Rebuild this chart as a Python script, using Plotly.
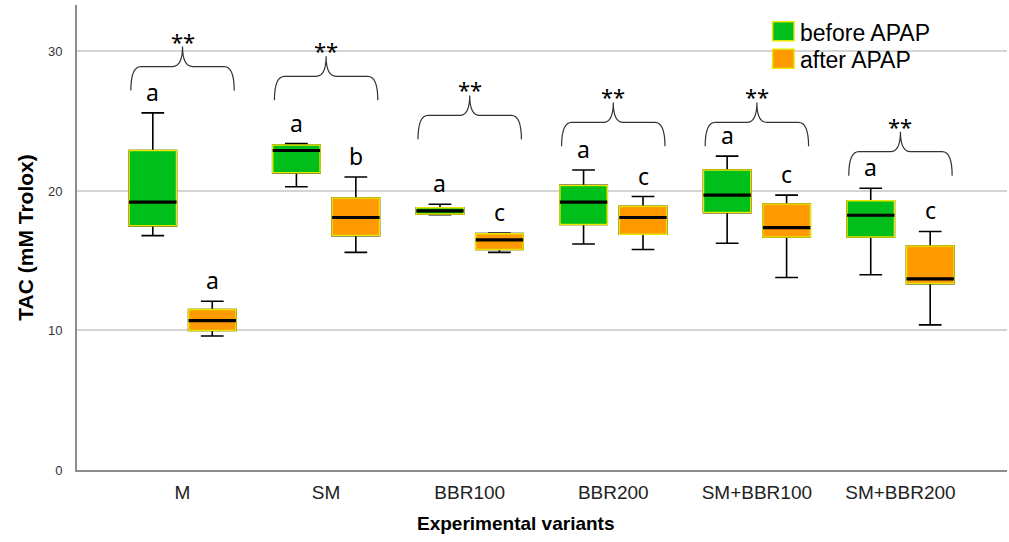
import plotly.graph_objects as go

# ---------------- data ----------------
categories = ["M", "SM", "BBR100", "BBR200", "SM+BBR100", "SM+BBR200"]
series_names = ["before APAP", "after APAP"]

before_low = [16.8, 20.3, 18.3, 16.2, 16.25, 14.0]
before_q1 = [17.5, 21.3, 18.35, 17.6, 18.45, 16.7]
before_med = [19.2, 22.9, 18.57, 19.2, 19.7, 18.26]
before_q3 = [22.9, 23.3, 18.8, 20.4, 21.5, 19.3]
before_high = [25.6, 23.4, 19.05, 21.5, 22.5, 20.2]

after_low = [9.6, 15.6, 15.6, 15.8, 13.8, 10.4]
after_q1 = [10.0, 16.8, 15.8, 16.9, 16.7, 13.36]
after_med = [10.7, 18.1, 16.5, 18.1, 17.37, 13.7]
after_q3 = [11.5, 19.5, 16.94, 18.9, 19.07, 16.06]
after_high = [12.1, 21.0, 16.99, 19.6, 19.7, 17.1]

before_letters = ["a", "a", "a", "a", "a", "a"]
after_letters = ["a", "b", "c", "c", "c", "c"]
significance = ["**", "**", "**", "**", "**", "**"]
brace_level = [27.2, 26.5, 23.7, 23.2, 23.2, 21.1]

y_ticks = [0, 10, 20, 30]

# ---------------- styles ----------------
GREEN = "#00BF1A"
ORANGE = "#FF9900"
YELLOW = "#E6E600"
OFFSET = 0.207
BOXW = 0.33

fig = go.Figure()
shapes = []
annotations = []

groups = [
    (series_names[0], GREEN, -OFFSET, before_low, before_q1, before_med, before_q3, before_high, before_letters),
    (series_names[1], ORANGE, OFFSET, after_low, after_q1, after_med, after_q3, after_high, after_letters),
]

for name, color, off, low, q1, med, q3, high, letters in groups:
    xs = [i + off for i in range(len(categories))]
    fig.add_trace(go.Box(
        name=name, x=xs, lowerfence=low, q1=q1, median=med, q3=q3, upperfence=high,
        width=BOXW, whiskerwidth=0.48, fillcolor=color,
        line=dict(color="black", width=1.6), boxpoints=False, showlegend=False,
    ))
    for x, a, b, m, hi, lt in zip(xs, q1, q3, med, high, letters):
        shapes.append(dict(type="rect", xref="x", yref="y", x0=x - BOXW / 2, x1=x + BOXW / 2,
                           y0=a, y1=b, fillcolor=color, line=dict(color=YELLOW, width=1.5),
                           layer="above"))
        shapes.append(dict(type="line", xref="x", yref="y", x0=x - BOXW / 2, x1=x + BOXW / 2,
                           y0=m, y1=m, line=dict(color="black", width=3.2), layer="above"))
        annotations.append(dict(x=x, y=hi, xref="x", yref="y", text=lt, showarrow=False,
                                yanchor="bottom", yshift=3,
                                font=dict(family="Noto Sans", size=23, color="black")))

# braces with significance marks
HW = 0.36
R = 0.07
H1 = 1.72
H2 = 1.43
for i, (lvl, sig) in enumerate(zip(brace_level, significance)):
    xl, xr, xc = i - HW, i + HW, i
    yb, yh, yt = lvl, lvl + H1, lvl + H1 + H2
    path = (f"M{xl},{yb} Q{xl},{yh} {xl + R},{yh} L{xc - R},{yh} Q{xc},{yh} {xc},{yt} "
            f"Q{xc},{yh} {xc + R},{yh} L{xr - R},{yh} Q{xr},{yh} {xr},{yb}")
    shapes.append(dict(type="path", xref="x", yref="y", path=path,
                       line=dict(color="#333333", width=1.2)))
    annotations.append(dict(x=xc, y=yt, xref="x", yref="y", text=sig, showarrow=False,
                            yanchor="middle", yshift=6,
                            font=dict(family="Noto Sans", size=22, color="black")))

# manual legend
legend_items = [(series_names[0], GREEN, 0.964, 0.923, 0.940),
                (series_names[1], ORANGE, 0.905, 0.864, 0.882)]
for name, color, y1, y0, yt in legend_items:
    shapes.append(dict(type="rect", xref="paper", yref="paper", x0=0.748, x1=0.771,
                       y0=y0, y1=y1, fillcolor=color, line=dict(color=YELLOW, width=1.5)))
    annotations.append(dict(x=0.775, y=yt, xref="paper", yref="paper", text=name,
                            showarrow=False, xanchor="left", yanchor="middle",
                            font=dict(family="Liberation Sans", size=23, color="black")))

# x-axis title (placed as in the reference, slightly left of centre)
annotations.append(dict(x=0.472, y=-0.116, xref="paper", yref="paper",
                        text="<b>Experimental variants</b>", showarrow=False,
                        xanchor="center", yanchor="middle",
                        font=dict(family="Liberation Sans", size=19, color="black")))

fig.update_layout(
    width=1009, height=542,
    margin=dict(l=77, r=2, t=5, b=72),
    paper_bgcolor="white", plot_bgcolor="white",
    boxmode="overlay",
    shapes=shapes, annotations=annotations,
    showlegend=False,
    xaxis=dict(
        range=[-0.735, 5.742], tickmode="array", tickvals=list(range(len(categories))),
        ticktext=categories, showgrid=False, zeroline=False,
        showline=True, linecolor="#8c8c8c", linewidth=2, ticks="",
        ticklabelstandoff=4,
        tickfont=dict(family="Liberation Sans", size=19, color="#222222"),
    ),
    yaxis=dict(
        range=[0, 33.33], tickmode="array", tickvals=y_ticks,
        showgrid=True, gridcolor="#d4d4d4", gridwidth=2, zeroline=False,
        showline=True, linecolor="#8c8c8c", linewidth=2, ticks="",
        ticklabelstandoff=10,
        tickfont=dict(family="Liberation Sans", size=13, color="#333333"),
        title=dict(text="<b>TAC (mM Trolox)</b>", standoff=9,
                   font=dict(family="Liberation Sans", size=21, color="black")),
    ),
)

fig.write_html("out.html")
